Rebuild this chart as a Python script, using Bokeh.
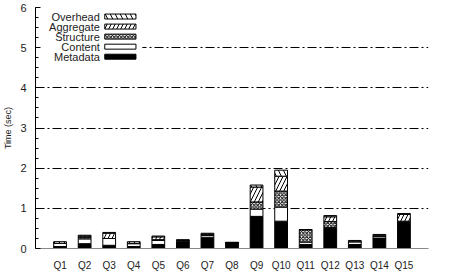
from bokeh.plotting import figure
from bokeh.models import FixedTicker, Range1d, ColumnDataSource
from bokeh.embed import file_html
from bokeh.resources import INLINE
from bokeh.core.properties import value

queries = ["Q1", "Q2", "Q3", "Q4", "Q5", "Q6", "Q7", "Q8",
           "Q9", "Q10", "Q11", "Q12", "Q13", "Q14", "Q15"]
metadata  = [0.05, 0.12, 0.08, 0.05, 0.10, 0.18, 0.27, 0.15, 0.80, 0.68, 0.10, 0.50, 0.10, 0.26, 0.66]
content   = [0.08, 0.12, 0.17, 0.07, 0.10, 0.02, 0.05, 0.00, 0.18, 0.35, 0.06, 0.02, 0.07, 0.05, 0.02]
structure = [0.00, 0.04, 0.00, 0.01, 0.02, 0.00, 0.02, 0.00, 0.18, 0.40, 0.31, 0.15, 0.00, 0.00, 0.00]
aggregate = [0.00, 0.03, 0.13, 0.00, 0.07, 0.00, 0.02, 0.00, 0.37, 0.37, 0.00, 0.12, 0.00, 0.02, 0.17]
overhead  = [0.04, 0.02, 0.02, 0.04, 0.02, 0.02, 0.02, 0.00, 0.05, 0.15, 0.00, 0.03, 0.03, 0.02, 0.02]
components = ["Metadata", "Content", "Structure", "Aggregate", "Overhead"]
y_ticks = [0, 1, 2, 3, 4, 5, 6]

FONT = "Liberation Sans"
fills = ["black", "white", "white", "white", "white"]
hatches = [" ", " ", "x", "/", "\\"]
hscales = [6, 6, 3.5, 8, 10]

xs = list(range(1, len(queries) + 1))
source = ColumnDataSource(dict(x=xs, Metadata=metadata, Content=content,
                               Structure=structure, Aggregate=aggregate,
                               Overhead=overhead))

p = figure(width=449, height=274, output_backend="svg", toolbar_location=None,
           x_range=Range1d(0, 16), y_range=Range1d(0, 6),
           min_border_left=31, min_border_right=21, min_border_top=7,
           min_border_bottom=26, outline_line_color=None,
           background_fill_color="white", border_fill_color="white")

p.vbar_stack(components, x="x", width=0.52, source=source,
             fill_color=fills, line_color="black", line_width=1,
             hatch_pattern=hatches, hatch_color="black", hatch_scale=hscales,
             hatch_weight=1)

# grid
p.xgrid.visible = False
p.ygrid.ticker = FixedTicker(ticks=y_ticks[1:])
p.ygrid.grid_line_color = "black"
p.ygrid.grid_line_dash = "9 3 2 3"
p.ygrid.grid_line_width = 1

# x axis
p.xaxis.ticker = FixedTicker(ticks=xs)
p.xaxis.major_label_overrides = {i: q for i, q in zip(xs, queries)}
p.xaxis.major_tick_line_color = None
p.xaxis.minor_tick_line_color = None
p.xaxis.axis_line_color = "#888888"
p.xaxis.major_label_text_font = FONT
p.xaxis.major_label_text_font_size = "10px"
p.xaxis.major_label_text_color = "#222222"
p.xaxis.major_label_standoff = 5

# y axis
p.yaxis.ticker = FixedTicker(ticks=y_ticks, minor_ticks=[k * 0.25 for k in range(25)])
p.yaxis.major_tick_in = 5
p.yaxis.major_tick_out = 0
p.yaxis.minor_tick_in = 3
p.yaxis.minor_tick_out = 0
p.yaxis.axis_line_color = "black"
p.yaxis.major_label_text_font = FONT
p.yaxis.major_label_text_font_size = "11px"
p.yaxis.major_label_text_color = "#222222"
p.yaxis.major_label_standoff = 9
p.yaxis.axis_label = "Time (sec)"
p.yaxis.axis_label_text_font = FONT
p.yaxis.axis_label_text_font_size = "9px"
p.yaxis.axis_label_text_font_style = "normal"
p.yaxis.axis_label_text_color = "#222222"
p.yaxis.axis_label_standoff = 4

# legend (labels left of swatches, top-left inside, on a white box)
p.quad(left=[0.02], right=[4.35], top=[5.92], bottom=[4.63],
       fill_color="white", line_color=None)
leg_order = components[::-1]
row_y = [5.775 - 0.25 * i for i in range(len(leg_order))]
for i, name in enumerate(leg_order):
    k = components.index(name)
    p.quad(left=[2.82], right=[4.09], top=[row_y[i] + 0.062], bottom=[row_y[i] - 0.062],
           fill_color=fills[k], line_color="black", line_width=1,
           hatch_pattern=hatches[k], hatch_color="black", hatch_scale=hscales[k])
p.text(x=[2.62] * len(leg_order), y=row_y, text=leg_order, text_align="right",
       text_baseline="middle", text_font=value(FONT), text_font_size="11px",
       text_color="#222222")

open("out.html", "w").write(file_html(p, INLINE))
